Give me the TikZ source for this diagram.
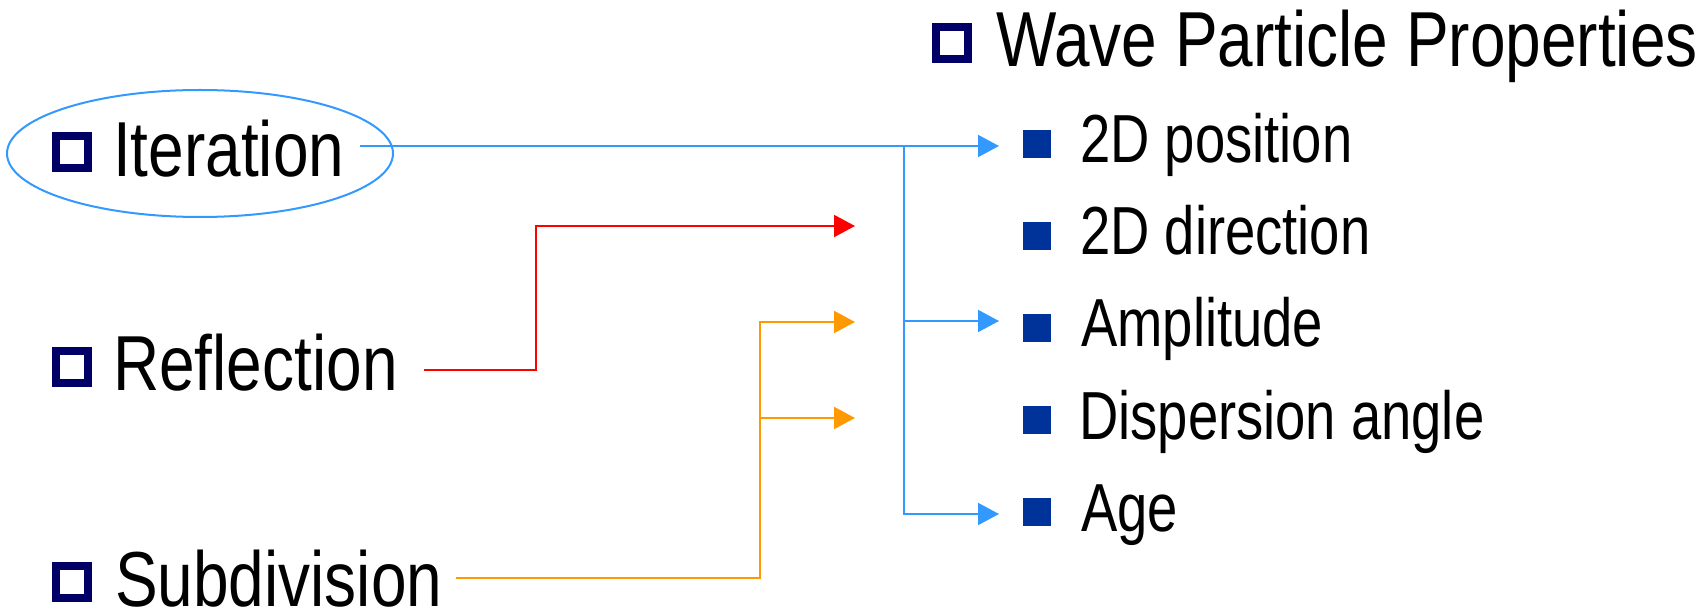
\documentclass[tikz,border=0pt]{standalone}
\usepackage{fontspec}
\setmainfont[FakeStretch=0.82]{Liberation Sans}
\newfontfamily\itemfont[FakeStretch=0.80]{Liberation Sans}
\usetikzlibrary{arrows.meta}
\definecolor{navy}{HTML}{000066}
\definecolor{itemblue}{HTML}{003399}
\definecolor{linkblue}{HTML}{3399FF}
\definecolor{linkred}{HTML}{FF0000}
\definecolor{linkorange}{HTML}{FF9900}
\tikzset{
  hollowbullet/.style={draw=navy, line width=8pt, fill=white, minimum size=32pt,
    inner sep=0pt, anchor=south west},
  solidbullet/.style={fill=itemblue, draw=none, minimum size=28pt, inner sep=0pt,
    anchor=south west},
  biglabel/.style={anchor=base west, inner sep=0pt,
    font=\fontsize{78pt}{90pt}\selectfont},
  itemlabel/.style={anchor=base west, inner sep=0pt,
    font=\itemfont\fontsize{68pt}{80pt}\selectfont},
  link/.style={line width=2pt, -{Triangle[length=21pt,width=22pt]}},
}
\begin{document}
\begin{tikzpicture}[x=1pt, y=-1pt]
\useasboundingbox (0,0) rectangle (1697,609);

% left-hand operations
\node[hollowbullet] (bIter) at (52,172) {};
\node[biglabel] (iter) at (113,177) {Iteration};
\draw[linkblue, line width=2pt] (200,153.5) ellipse [x radius=193, y radius=63.5];

\node[hollowbullet] (bRefl) at (52,387) {};
\node[biglabel] (refl) at (113,391) {Reflection};

\node[hollowbullet] (bSub) at (52,602) {};
\node[biglabel] (sub) at (115,606) {Subdivision};

% property list
\node[hollowbullet] (bTitle) at (932,63) {};
\node[biglabel] (title) at (996,67) {Wave Particle Properties};

\node[solidbullet] (b1) at (1023,158) {};
\node[itemlabel] (pos) at (1080,163) {2D position};
\node[solidbullet] (b2) at (1023,250) {};
\node[itemlabel] (dir) at (1080,255) {2D direction};
\node[solidbullet] (b3) at (1023,342) {};
\node[itemlabel] (amp) at (1081,347) {Amplitude};
\node[solidbullet] (b4) at (1023,434) {};
\node[itemlabel] (disp) at (1079,439) {Dispersion angle};
\node[solidbullet] (b5) at (1023,526) {};
\node[itemlabel] (age) at (1081,531) {Age};

% connector ends and corners
\coordinate (iterOut) at (360,146);
\coordinate (reflOut) at (424,370);
\coordinate (subOut) at (456,578);
\coordinate (split) at (904,146);
\coordinate (toPos) at (999,146);
\coordinate (toAmp) at (999,321);
\coordinate (toAge) at (999,514);
\coordinate (reflTurn) at (536,226);
\coordinate (toDir) at (855,226);
\coordinate (subTurn) at (760,322);
\coordinate (toUpper) at (855,322);
\coordinate (subFork) at (760,418);
\coordinate (toLower) at (855,418);

% iteration updates position, amplitude and age
\draw[link, linkblue] (iterOut) -- (toPos);
\draw[link, linkblue] (split) |- (toAmp);
\draw[link, linkblue] (split) |- (toAge);

% reflection updates direction
\draw[link, linkred] (reflOut) -| (reflTurn) -- (toDir);

% subdivision updates amplitude and dispersion angle
\draw[link, linkorange] (subOut) -| (subTurn) -- (toUpper);
\draw[link, linkorange] (subFork) -- (toLower);
\end{tikzpicture}
\end{document}
